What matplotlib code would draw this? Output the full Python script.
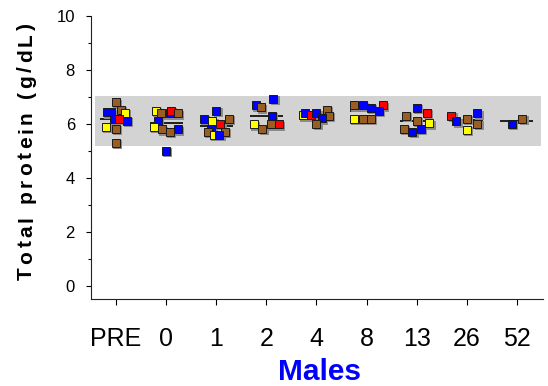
import matplotlib
matplotlib.use("Agg")
import matplotlib.pyplot as plt
from matplotlib.transforms import offset_copy
from matplotlib.font_manager import FontProperties
import numpy as np

weeks = ["PRE", "0", "1", "2", "4", "8", "13", "26", "52"]

# reference interval (g/dL)
ref_low = 5.2
ref_high = 7.05

# total protein per animal at each time point
tp_pre = [6.80, 6.43, 6.43, 6.52, 6.42, 6.18, 6.18, 6.11, 5.89, 5.81, 5.30]
tp_w0 = [6.49, 6.40, 6.40, 6.50, 6.40, 6.10, 5.90, 5.80, 5.70, 5.80, 5.00]
tp_w1 = [6.49, 6.20, 6.20, 6.10, 6.00, 5.80, 5.70, 5.70, 5.60, 5.60]
tp_w2 = [6.94, 6.69, 6.62, 6.30, 5.99, 5.99, 5.99, 5.83]
tp_w4 = [6.32, 6.40, 6.32, 6.40, 6.52, 6.30, 6.21, 6.00]
tp_w8 = [6.69, 6.69, 6.59, 6.69, 6.49, 6.20, 6.20, 6.20]
tp_w13 = [6.59, 6.42, 6.30, 6.11, 6.02, 5.81, 5.72, 5.81]
tp_w26 = [6.31, 6.10, 6.20, 6.40, 6.00, 5.79]
tp_w52 = [6.00, 6.20]

# animal group of each point: n=brown, b=blue, y=yellow, r=red
grp_pre = "nbbnybrbynn"
grp_w0 = "ynbrnbynnbb"
grp_w1 = "bbnyrbnnyb"
grp_w2 = "bbnbynrn"
grp_w4 = "ybrbnnbn"
grp_w8 = "nbbrbynn"
grp_w13 = "brnnynbb"
grp_w26 = "rbnbny"
grp_w52 = "bn"

# horizontal spread of the points around each time point
dx_pre = [0, -0.18, -0.11, 0.10, 0.18, -0.05, 0.06, 0.21, -0.21, 0, 0]
dx_w0 = [-0.21, -0.11, 0.08, 0.09, 0.24, -0.17, -0.25, -0.09, 0.07, 0.24, 0]
dx_w1 = [0, -0.25, 0.25, -0.08, 0.08, -0.10, -0.17, 0.17, -0.05, 0.06]
dx_w2 = [0.14, -0.21, -0.11, 0.11, -0.25, 0.09, 0.25, -0.08]
dx_w4 = [-0.27, -0.22, -0.11, 0, 0.20, 0.24, 0.11, 0]
dx_w8 = [-0.25, -0.08, 0.09, 0.33, 0.25, -0.25, -0.08, 0.09]
dx_w13 = [0, 0.20, -0.21, 0, 0.25, -0.25, -0.09, 0.08]
dx_w26 = [-0.31, -0.21, 0, 0.21, 0.21, 0]
dx_w52 = [-0.10, 0.11]

protein = [tp_pre, tp_w0, tp_w1, tp_w2, tp_w4, tp_w8, tp_w13, tp_w26, tp_w52]
groups = [grp_pre, grp_w0, grp_w1, grp_w2, grp_w4, grp_w8, grp_w13, grp_w26, grp_w52]
spread = [dx_pre, dx_w0, dx_w1, dx_w2, dx_w4, dx_w8, dx_w13, dx_w26, dx_w52]

colours = {"n": "#9a5e22", "b": "#0000ff", "y": "#ffff00", "r": "#ff0000"}

plt.rcParams["font.family"] = ["Liberation Sans", "DejaVu Sans"]

W, H = 548, 386
fig = plt.figure(figsize=(W / 100, H / 100), dpi=100)
ax = fig.add_axes([91 / W, 87 / H, 452 / W, 283 / H])

ax.fill_between([-0.42, 8.48], ref_low, ref_high, color="#d3d3d3", lw=0, zorder=0)

shadow = offset_copy(ax.transData, fig=fig, x=1.3, y=-1.3, units="dots")

for i in range(len(weeks)):
    vals = protein[i]
    ax.hlines(np.mean(vals), i - 0.33, i + 0.33, color="#111111", lw=1.3, zorder=2)
    for v, g, d in zip(vals, groups[i], spread[i]):
        ax.plot(i + d, v, "s", ms=5.3, color="#8a8a8a", mec="#8a8a8a", mew=0.7,
                transform=shadow, zorder=3)
        ax.plot(i + d, v, "s", ms=5.3, color=colours[g], mec="#1a1a1a", mew=0.7, zorder=4)

ax.set_xlim(-0.5, 8.52)
ax.set_ylim(-0.48, 10)
ax.set_xticks(range(len(weeks)))
ax.set_xticklabels(weeks)
ax.set_yticks(range(0, 11, 2))
ax.set_yticks(range(1, 10, 2), minor=True)
ax.tick_params(axis="x", direction="out", length=4, width=0.8, labelsize=18, pad=16)
ax.tick_params(axis="y", which="major", direction="out", length=3.6, width=0.8,
               labelsize=12, pad=8)
ax.tick_params(axis="y", which="minor", direction="out", length=2.4, width=0.8)
for s in ["top", "right"]:
    ax.spines[s].set_visible(False)
for s in ["left", "bottom"]:
    ax.spines[s].set_linewidth(0.8)
    ax.spines[s].set_color("#222222")

fig.text(320 / W, 0.5 / H, "Males", ha="center", va="bottom", fontsize=21.5,
         fontweight="bold", color="#0000ff")

# spaced-out y label, placed one character at a time
ylabel = "Total protein (g/dL)"
prop = FontProperties(family="Liberation Sans", weight="bold", size=15)
renderer = fig.canvas.get_renderer()
base = renderer.get_text_width_height_descent("HH", prop, ismath=False)[0]
widths = [renderer.get_text_width_height_descent("H" + c + "H", prop, ismath=False)[0] - base
          for c in ylabel]
start, end = H - 280, H - 23
track = (end - start - sum(widths)) / (len(ylabel) - 1)
ypos = start
for c, w in zip(ylabel, widths):
    fig.text(32 / W, ypos / H, c, rotation=90, rotation_mode="anchor", ha="left",
             va="baseline", fontproperties=prop)
    ypos += w + track

fig.savefig("out.png", dpi=100)
